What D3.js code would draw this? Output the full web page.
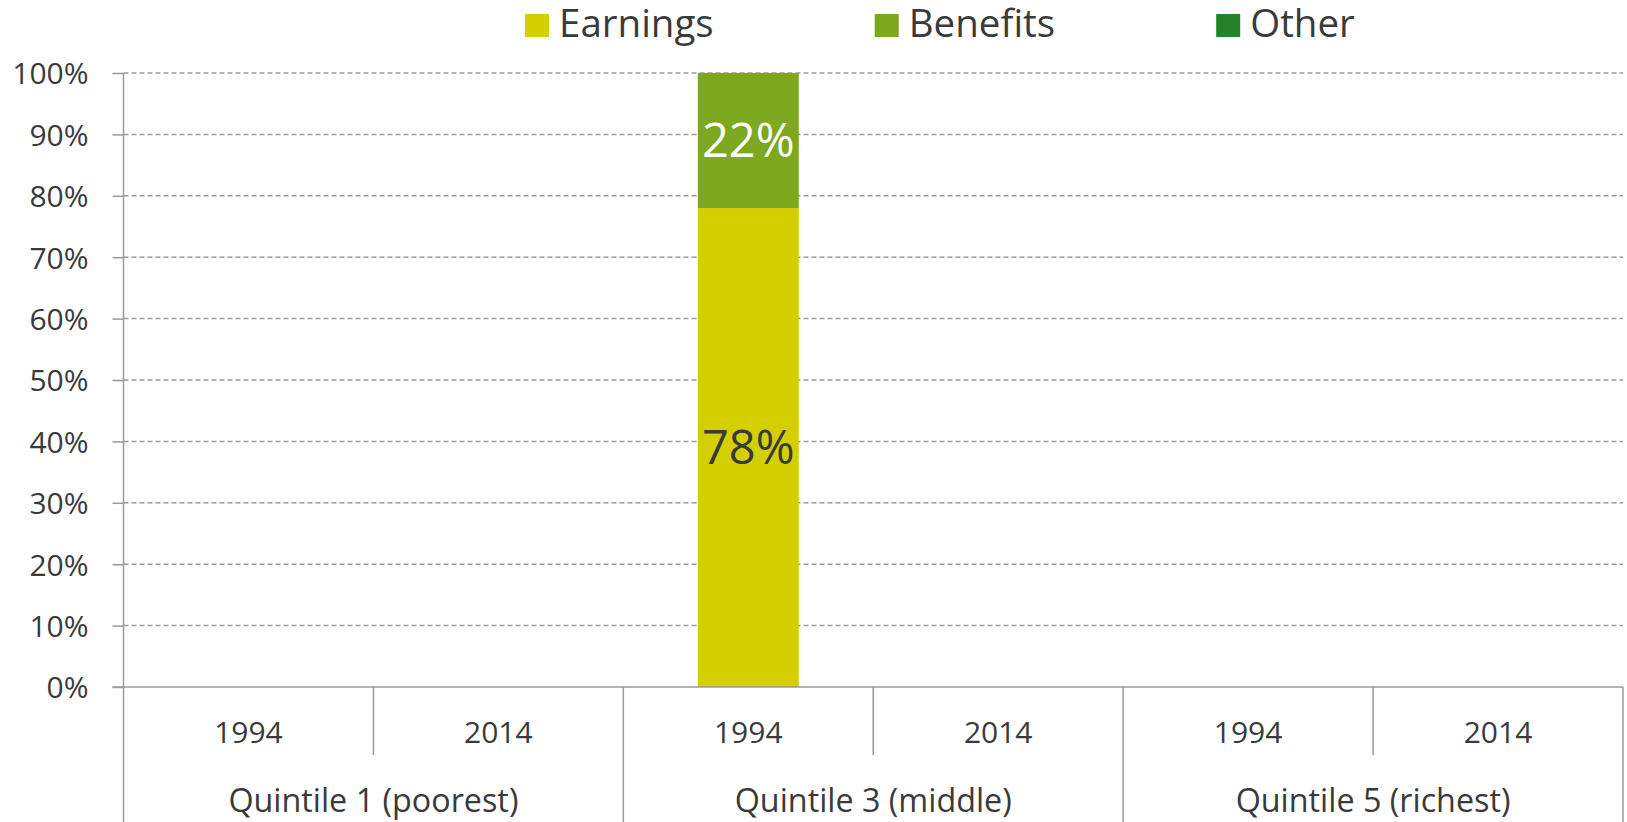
<!DOCTYPE html>
<html>
<head>
<meta charset="utf-8">
<script src="https://cdn.jsdelivr.net/npm/d3@7"></script>
<style>
  body { margin: 0; background: #fff; }
  svg { display: block; font-family: "Open Sans", "Noto Sans", sans-serif; }
</style>
</head>
<body>
<div id="root"></div>
<script>
// Categorie e serie
const quintiles = ["Quintile 1 (poorest)", "Quintile 3 (middle)", "Quintile 5 (richest)"];
const years = ["1994", "2014"];
const seriesNames = ["Earnings", "Benefits", "Other"];
const seriesColors = ["#d4d000", "#7da81f", "#23822a"];
// valori per ogni barra (quintile x anno), null = nessuna barra
const earnings = [null, null, 78, null, null, null];
const benefits = [null, null, 22, null, null, null];
const other    = [null, null, 0, null, null, null];
const yTicks = [0, 10, 20, 30, 40, 50, 60, 70, 80, 90, 100];

// Dimensioni e margini
const W = 1627, H = 822;
const plotLeft = 123.5, plotRight = 1623, plotTop = 73, plotBottom = 687;
const textColor = "#3a3a3a";
const gridColor = "#9a9a9a";

const keys = [];
quintiles.forEach(q => years.forEach(y => keys.push(q + "|" + y)));

const svg = d3.select("#root").append("svg")
    .attr("width", W)
    .attr("height", H);

// Scale
const x0 = d3.scaleBand().domain(quintiles).range([plotLeft, plotRight]);
const x = d3.scaleBand().domain(keys).range([plotLeft, plotRight]);
const y = d3.scaleLinear().domain([0, 100]).range([plotBottom, plotTop]);

// Griglia tratteggiata
svg.append("g")
    .selectAll("line")
    .data(yTicks.filter(d => d > 0))
    .join("line")
    .attr("x1", plotLeft).attr("x2", plotRight)
    .attr("y1", d => y(d)).attr("y2", d => y(d))
    .attr("stroke", gridColor)
    .attr("stroke-width", 1.5)
    .attr("stroke-dasharray", "5,3");

// Asse y
const yAxis = d3.axisLeft(y)
    .tickValues(yTicks)
    .tickFormat(d => d + "%")
    .tickSize(11)
    .tickPadding(24);

const gy = svg.append("g")
    .attr("transform", `translate(${plotLeft},0)`)
    .call(yAxis)
    .attr("font-family", null)
    .attr("font-size", null);
gy.select(".domain").remove();
gy.selectAll(".tick line").attr("stroke", gridColor).attr("stroke-width", 1.5);
gy.selectAll(".tick text")
    .attr("fill", textColor)
    .style("font-size", "30px")
    .attr("dy", "0.36em");

// Barre impilate
const rows = keys.map((k, i) => ({
    key: k,
    Earnings: earnings[i],
    Benefits: benefits[i],
    Other: other[i]
})).filter(d => d.Earnings !== null);

const stack = d3.stack().keys(seriesNames)(rows);
const barW = x.bandwidth() * 0.404;
const color = d3.scaleOrdinal().domain(seriesNames).range(seriesColors);

stack.forEach(layer => {
    const segs = layer.filter(d => d[1] - d[0] > 0);
    svg.append("g").attr("fill", color(layer.key))
        .selectAll("rect")
        .data(segs)
        .join("rect")
        .attr("x", d => x(d.data.key) + (x.bandwidth() - barW) / 2)
        .attr("width", barW)
        .attr("y", d => y(d[1]))
        .attr("height", d => y(d[0]) - y(d[1]));

    svg.append("g")
        .selectAll("text")
        .data(segs)
        .join("text")
        .attr("x", d => x(d.data.key) + x.bandwidth() / 2)
        .attr("y", d => (y(d[0]) + y(d[1])) / 2)
        .attr("dy", "0.36em")
        .attr("text-anchor", "middle")
        .attr("fill", layer.key === "Earnings" ? textColor : "#ffffff")
        .style("font-size", "47px")
        .text(d => Math.round(d[1] - d[0]) + "%");
});

// Asse x a due livelli
const gx = svg.append("g");
gx.append("line")
    .attr("x1", plotLeft - 11).attr("x2", plotRight)
    .attr("y1", plotBottom).attr("y2", plotBottom)
    .attr("stroke", gridColor).attr("stroke-width", 1.5);

// divisori tra anni
gx.selectAll(".yearDiv")
    .data(keys.filter((k, i) => i % 2 === 1))
    .join("line")
    .attr("x1", d => x(d)).attr("x2", d => x(d))
    .attr("y1", plotBottom).attr("y2", plotBottom + 68)
    .attr("stroke", gridColor).attr("stroke-width", 1.5);

// divisori tra quintili (il primo e' anche l'asse y)
gx.selectAll(".qDiv")
    .data(quintiles.map(q => x0(q)).concat([plotRight]))
    .join("line")
    .attr("x1", d => d).attr("x2", d => d)
    .attr("y1", (d, i) => i === 0 ? plotTop : plotBottom)
    .attr("y2", H)
    .attr("stroke", gridColor).attr("stroke-width", 1.5);

gx.selectAll(".yearLabel")
    .data(keys)
    .join("text")
    .attr("x", d => x(d) + x.bandwidth() / 2)
    .attr("y", 743)
    .attr("text-anchor", "middle")
    .attr("fill", textColor)
    .style("font-size", "30px")
    .text(d => d.split("|")[1]);

gx.selectAll(".qLabel")
    .data(quintiles)
    .join("text")
    .attr("x", d => x0(d) + x0.bandwidth() / 2)
    .attr("y", 812)
    .attr("text-anchor", "middle")
    .attr("fill", textColor)
    .style("font-size", "32.3px")
    .text(d => d);

// Legenda
const legend = svg.append("g");
let lx = 525;
seriesNames.forEach((name, i) => {
    legend.append("rect")
        .attr("x", lx).attr("y", 14)
        .attr("width", 24).attr("height", 23)
        .attr("fill", seriesColors[i]);
    const t = legend.append("text")
        .attr("x", lx + 34).attr("y", 37)
        .attr("fill", textColor)
        .style("font-size", "38.5px")
        .text(name);
    lx += 34 + t.node().getComputedTextLength() + 161;
});
</script>
</body>
</html>
